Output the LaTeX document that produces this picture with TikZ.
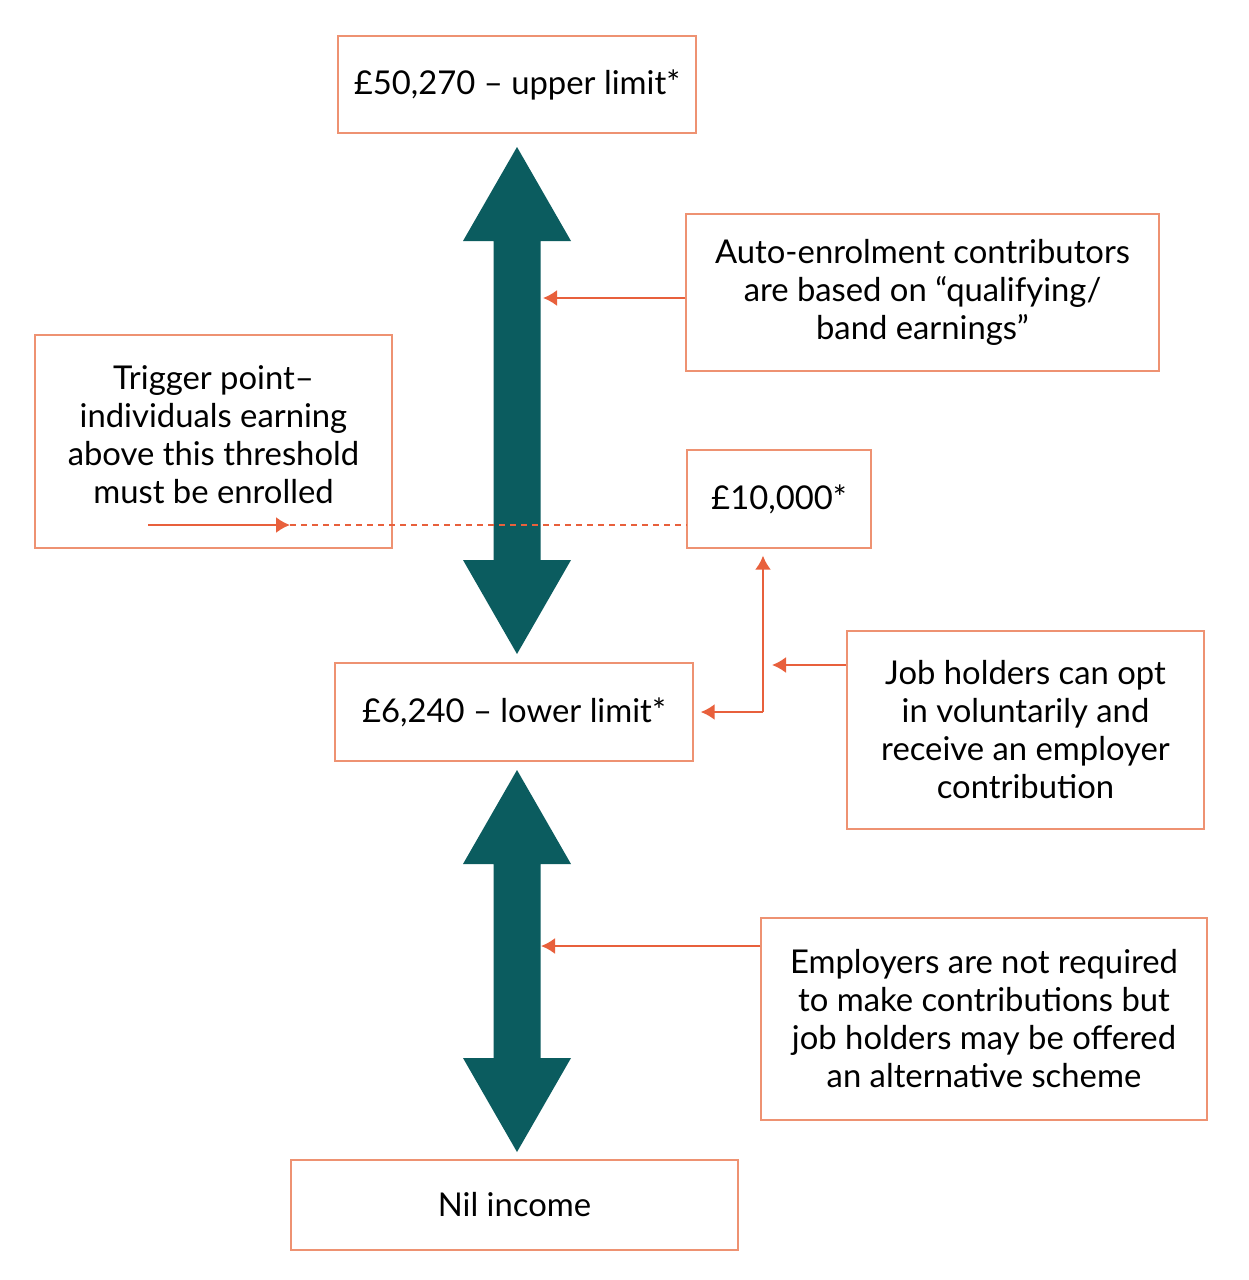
\documentclass[tikz,border=0pt]{standalone}
\usepackage{fontspec}
\setmainfont{Lato}
\usetikzlibrary{arrows.meta}
\definecolor{bandteal}{HTML}{0B5C5F}
\definecolor{pointline}{HTML}{E8603C}
\definecolor{boxline}{HTML}{EE9272}

\tikzset{
  band/.style={draw=boxline, line width=0.7pt, align=center, inner sep=0pt,
    font=\fontsize{16.4}{19}\selectfont},
  pointer/.style={draw=pointline, line width=1pt, -{Latex[length=7pt,width=8pt]}},
  dashline/.style={draw=pointline, line width=0.6pt, dash pattern=on 3pt off 2.5pt},
}

% big double arrow between two tip heights
\newcommand{\bandarrow}[2]{%
  \fill[bandteal] (517,#1) -- (571,{#1+94}) -- (540.5,{#1+94}) -- (540.5,{#2-94})
    -- (571,{#2-94}) -- (517,#2) -- (463,{#2-94}) -- (493.5,{#2-94})
    -- (493.5,{#1+94}) -- (463,{#1+94}) -- cycle;}

\begin{document}
\begin{tikzpicture}[x=0.5pt, y=-0.5pt]
    \fill[white] (0,0) rectangle (1248,1280);
    \useasboundingbox (0,0) rectangle (1248,1280);

    \bandarrow{147}{654}
    \bandarrow{770}{1152}

    \node[band, minimum width=179pt, minimum height=48.5pt] (upper) at (517,84.5)
      {£50,270 – upper limit*};
    \node[band, minimum width=236.5pt, minimum height=78.5pt] (auto) at (922.5,292.5)
      {Auto-enrolment contributors\\are based on “qualifying/\\band earnings”};
    \node[band, minimum width=178.5pt, minimum height=106.5pt] (trigger) at (213.5,441.5)
      {Trigger point–\\individuals earning\\above this threshold\\must be enrolled\\[-12pt]};
    \node[band, minimum width=92pt, minimum height=49pt] (tenk) at (779,499)
      {£10,000*};
    \node[band, minimum width=179pt, minimum height=49pt] (lower) at (514,712)
      {£6,240 – lower limit*};
    \node[band, minimum width=178.5pt, minimum height=99pt] (job) at (1025.5,730)
      {Job holders can opt\\in voluntarily and\\receive an employer\\contribution};
    \node[band, minimum width=223pt, minimum height=101pt] (employ) at (984,1019)
      {Employers are not required\\to make contributions but\\job holders may be offered\\an alternative scheme};
    \node[band, minimum width=223.5pt, minimum height=45pt] (nil) at (514.5,1205)
      {Nil income};

    \coordinate (upshaft) at (543,298);
    \coordinate (trigstart) at (148,525);
    \coordinate (trigmid) at (290,525);
    \coordinate (bend) at (763,712);
    \coordinate (jobtip) at (772,665);
    \coordinate (lowshaft) at (541,946);

    \draw[pointer] (auto.west |- upshaft) -- (upshaft);
    \draw[pointer] (trigstart) -- (trigmid);
    \draw[dashline] (trigmid) -- (tenk.west |- trigmid);
    \draw[pointer, shorten >=3.5pt] (bend) -- (bend |- tenk.south);
    \draw[pointer] (bend) -- ([xshift=3.5pt]lower.east);
    \draw[pointer] (job.west |- jobtip) -- (jobtip);
    \draw[pointer] (employ.west |- lowshaft) -- (lowshaft);
  \end{tikzpicture}
\end{document}
